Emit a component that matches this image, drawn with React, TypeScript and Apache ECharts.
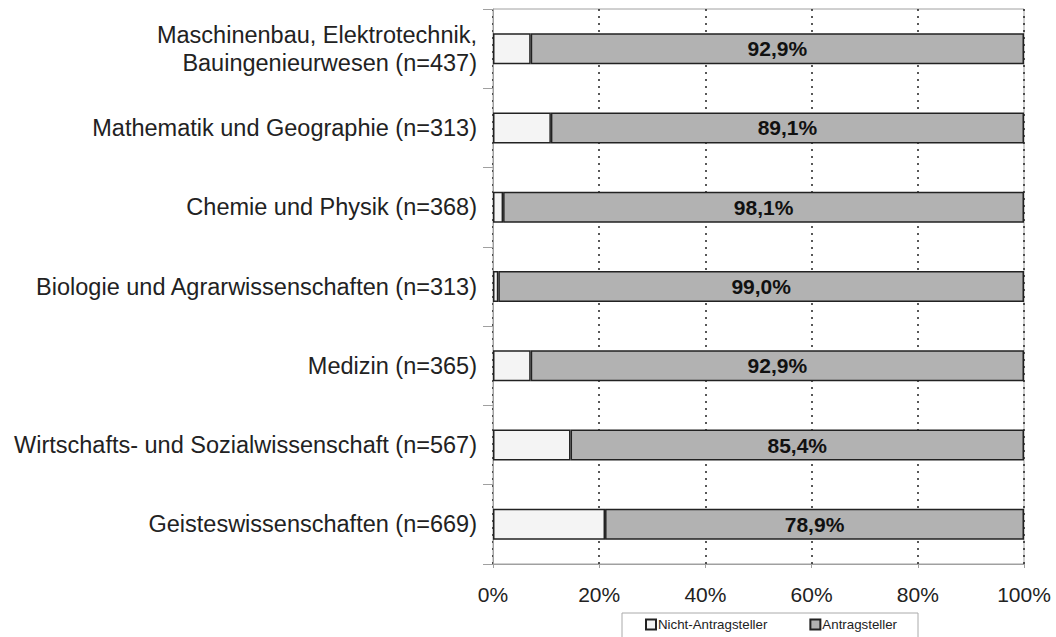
import React, { useEffect, useRef } from "react";
import * as echarts from "echarts";

const categories = [
  "Maschinenbau, Elektrotechnik,\nBauingenieurwesen (n=437)",
  "Mathematik und Geographie (n=313)",
  "Chemie und Physik (n=368)",
  "Biologie und Agrarwissenschaften (n=313)",
  "Medizin (n=365)",
  "Wirtschafts- und Sozialwissenschaft (n=567)",
  "Geisteswissenschaften (n=669)",
];
const nichtAntragsteller = [7.1, 10.9, 1.9, 1.0, 7.1, 14.6, 21.1];
const antragsteller = [92.9, 89.1, 98.1, 99.0, 92.9, 85.4, 78.9];
const seriesNames = ["Nicht-Antragsteller", "Antragsteller"];

const FONT = "'Liberation Sans', Arial, sans-serif";

export default function App() {
  const ref = useRef<HTMLDivElement>(null);
  useEffect(() => {
    if (!ref.current) return;
    const chart = echarts.init(ref.current, null, { renderer: "svg" });
    chart.setOption({
      animation: false,
      backgroundColor: "#ffffff",
      textStyle: { fontFamily: FONT },
      grid: {
        left: 493,
        right: 32,
        top: 9,
        bottom: 73,
        show: true,
        borderColor: "#a0a0a0",
        borderWidth: 1,
      },
      legend: {
        left: 622,
        top: 613,
        itemWidth: 10,
        itemHeight: 10,
        itemGap: 42,
        padding: [5, 21, 8, 23],
        borderColor: "#aaaaaa",
        borderWidth: 1,
        backgroundColor: "#ffffff",
        textStyle: { fontFamily: FONT, fontSize: 13.3, color: "#222", padding: [0, 0, 0, -3] },
        data: seriesNames.map((n) => ({ name: n, icon: "rect" })),
      },
      xAxis: {
        type: "value",
        min: 0,
        max: 100,
        interval: 20,
        axisLine: { show: true, lineStyle: { color: "#a0a0a0" } },
        axisTick: { show: true, length: 4, lineStyle: { color: "#a0a0a0" } },
        axisLabel: {
          formatter: "{value}%",
          fontFamily: FONT,
          fontSize: 21,
          color: "#222",
          margin: 20,
        },
        splitLine: {
          show: true,
          lineStyle: { color: "#222", type: [2, 5], width: 1.5 },
        },
      },
      yAxis: {
        type: "category",
        inverse: true,
        data: categories,
        axisLine: { show: true, lineStyle: { color: "#a0a0a0" } },
        axisTick: { show: true, length: 10, lineStyle: { color: "#a0a0a0" } },
        axisLabel: {
          fontFamily: FONT,
          fontSize: 23.5,
          color: "#222",
          margin: 16,
          lineHeight: 28,
          align: "right",
        },
      },
      series: [
        {
          name: seriesNames[0],
          type: "bar",
          stack: "total",
          barWidth: 31,
          data: nichtAntragsteller,
          itemStyle: {
            color: "#f4f4f4",
            borderColor: "#222",
            borderWidth: 1.5,
          },
        },
        {
          name: seriesNames[1],
          type: "bar",
          stack: "total",
          barWidth: 31,
          data: antragsteller,
          itemStyle: { color: "#b2b2b2", borderColor: "#222", borderWidth: 1.5 },
          label: {
            show: true,
            position: "inside",
            formatter: (p: any) => p.value.toFixed(1).replace(".", ",") + "%",
            fontFamily: FONT,
            fontSize: 21,
            fontWeight: "bold",
            color: "#111",
          },
        },
      ],
    });
    return () => chart.dispose();
  }, []);
  return (
    <div
      ref={ref}
      style={{ position: "fixed", left: 0, top: 0, width: 1056, height: 637 }}
    />
  );
}
